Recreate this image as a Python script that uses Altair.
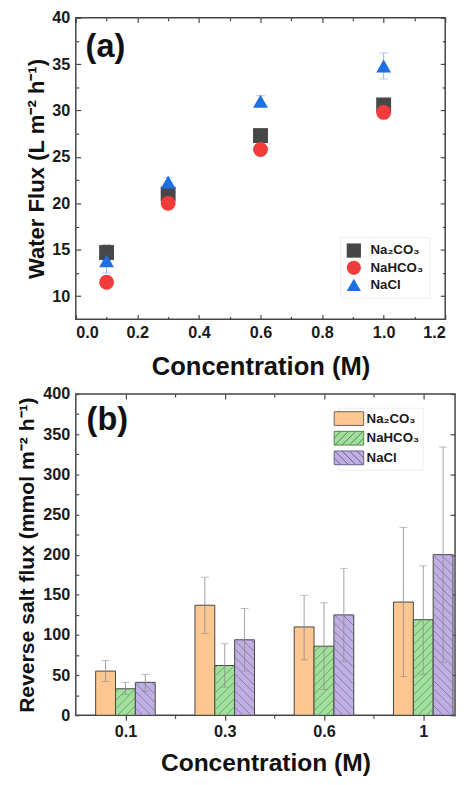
import math
import altair as alt
import pandas as pd

# ---------------- data ----------------
series = ["Na₂CO₃", "NaHCO₃", "NaCl"]

# (a) water flux
conc = [0.1, 0.3, 0.6, 1.0]
flux_na2co3 = [14.7, 21.0, 27.3, 30.6]
flux_nahco3 = [11.5, 20.0, 25.8, 29.8]
flux_nacl = [13.8, 22.3, 31.0, 34.8]
err_na2co3 = [0.8, 0.4, 0.4, 0.3]
err_nahco3 = [0.2, 0.2, 0.2, 0.2]
err_nacl = [1.3, 0.5, 0.6, 1.4]

# (b) reverse salt flux
conc_labels = ["0.1", "0.3", "0.6", "1"]
rsf_na2co3 = [55, 137, 110, 141]
rsf_nahco3 = [33, 62, 86, 119]
rsf_nacl = [41, 94, 125, 200]
rsf_lo_na2co3 = [42, 102, 69, 48]
rsf_hi_na2co3 = [68, 172, 149, 234]
rsf_lo_nahco3 = [26, 35, 32, 51]
rsf_hi_nahco3 = [41, 89, 140, 186]
rsf_lo_nacl = [30, 55, 67, 66]
rsf_hi_nacl = [51, 133, 183, 334]

# ---------------- tables ----------------
rows = []
for s, fl, er in zip(series, [flux_na2co3, flux_nahco3, flux_nacl], [err_na2co3, err_nahco3, err_nacl]):
    for c, f, e in zip(conc, fl, er):
        rows.append({"series": s, "conc": c, "flux": f, "lo": f - e, "hi": f + e})
top_df = pd.DataFrame(rows)

offsets = [-0.2, 0.0, 0.2]
hatch_dir = [0, 1, -1]
brow = []
for k, (s, v, lo, hi) in enumerate(zip(series, [rsf_na2co3, rsf_nahco3, rsf_nacl],
                                       [rsf_lo_na2co3, rsf_lo_nahco3, rsf_lo_nacl],
                                       [rsf_hi_na2co3, rsf_hi_nahco3, rsf_hi_nacl])):
    for i in range(len(conc_labels)):
        pos = i + 1 + offsets[k]
        brow.append({"salt": s, "pos": pos, "x0": pos - 0.1, "x1": pos + 0.1,
                     "val": v[i], "lo": lo[i], "hi": hi[i], "dir": hatch_dir[k]})
bar_df = pd.DataFrame(brow)

FONT = "Liberation Sans"
W1, H1 = 376, 307
W2, H2 = 386, 327
XMIN2, XMAX2 = 0.5, 4.32

# hatch segments (styling derived from bar values through the pixel scale)
kx = W2 / (XMAX2 - XMIN2)
ky = H2 / 400.0


def hatch(x0, x1, v, d, s=8.5):
    px0, px1 = (x0 - XMIN2) * kx, (x1 - XMIN2) * kx
    py0, py1 = 0.0, v * ky
    segs = []
    if d > 0:
        cmin, cmax = py0 - px1, py1 - px0
    else:
        cmin, cmax = py0 + px0, py1 + px1
    k = math.ceil(cmin / s)
    while k * s <= cmax:
        c = k * s
        if d > 0:
            a, b = max(px0, py0 - c), min(px1, py1 - c)
            if b > a:
                segs.append((a, a + c, b, b + c))
        else:
            a, b = max(px0, c - py1), min(px1, c - py0)
            if b > a:
                segs.append((a, c - a, b, c - b))
        k += 1
    return [(xa / kx + XMIN2, ya / ky, xb / kx + XMIN2, yb / ky) for xa, ya, xb, yb in segs]


hrows = []
for r in brow:
    if r["dir"] != 0:
        for xa, ya, xb, yb in hatch(r["x0"], r["x1"], r["val"], r["dir"]):
            hrows.append({"salt": r["salt"], "xa": xa, "ya": ya, "xb": xb, "yb": yb})
hatch_df = pd.DataFrame(hrows)


def legend_path(d, hw=2.0, hh=0.93, s=1.0):
    p = f"M{-hw},{-hh}H{hw}V{hh}H{-hw}Z"
    if d == 0:
        return p
    k = -12
    while k <= 12:
        c = k * s
        if d > 0:  # '/' : y = -x + c
            a, b = max(-hw, c - hh), min(hw, c + hh)
            if b > a:
                p += f"M{a:.3f},{-a + c:.3f}L{b:.3f},{-b + c:.3f}"
        else:  # '\' : y = x + c
            a, b = max(-hw, -hh - c), min(hw, hh - c)
            if b > a:
                p += f"M{a:.3f},{a + c:.3f}L{b:.3f},{b + c:.3f}"
        k += 1
    return p


TICKC = "#444444"


def tick_layer(df, xf, yf, xsc, ysc, xvals, yvals, size, xorient, yorient, inward_x=True, inward_y=True):
    return alt.Chart(df).mark_point(opacity=0).encode(
        x=alt.X(xf, scale=xsc, axis=alt.Axis(orient=xorient, values=xvals, labels=False, title=None,
                                             domain=False, grid=False, tickSize=size, tickColor=TICKC,
                                             tickWidth=1.2, offset=-size if inward_x else 0)),
        y=alt.Y(yf, scale=ysc, axis=alt.Axis(orient=yorient, values=yvals, labels=False, title=None,
                                             domain=False, grid=False, tickSize=size, tickColor=TICKC,
                                             tickWidth=1.2, offset=-size if inward_y else 0)),
    )


def err_layers(df, key, name, xf, xsc, ysc, color, width, cap):
    base = alt.Chart(df).transform_filter(alt.datum[key] == name)
    rule = base.mark_rule(strokeWidth=width, color=color).encode(
        x=alt.X(xf, scale=xsc, axis=None), y=alt.Y("lo:Q", scale=ysc, axis=None), y2="hi:Q")
    lo = base.mark_tick(orient="horizontal", size=cap, thickness=width, color=color).encode(
        x=alt.X(xf, scale=xsc, axis=None), y=alt.Y("lo:Q", scale=ysc, axis=None))
    hi = base.mark_tick(orient="horizontal", size=cap, thickness=width, color=color).encode(
        x=alt.X(xf, scale=xsc, axis=None), y=alt.Y("hi:Q", scale=ysc, axis=None))
    return [rule, lo, hi]


# ---------------- panel (a) ----------------
xs1 = alt.Scale(domain=[0, 1.2], nice=False, zero=False)
ys1 = alt.Scale(domain=[7.5, 40], nice=False, zero=False)
xmaj1 = [0, 0.2, 0.4, 0.6, 0.8, 1.0, 1.2]
xmin1 = [0.1, 0.3, 0.5, 0.7, 0.9, 1.1]
ymaj1 = [10, 15, 20, 25, 30, 35, 40]
ymin1 = [12.5, 17.5, 22.5, 27.5, 32.5, 37.5]
color1 = alt.Scale(domain=series, range=["#474747", "#f23b3b", "#1d6fe3"])
shape1 = alt.Scale(domain=series, range=["square", "circle", "triangle-up"])
err_colors1 = ["#555555", "#f06a6a", "#8fb6ee"]

leg1 = alt.Legend(title=None, orient="none", legendX=269, legendY=223, symbolSize=210, labelFontSize=13.5,
                  rowPadding=1.5, padding=6, strokeColor="#eeeeee", labelOffset=9)

points1 = alt.Chart(top_df).mark_point(filled=True, size=230, opacity=1).encode(
    x=alt.X("conc:Q", scale=xs1, axis=alt.Axis(orient="bottom", values=xmaj1, format=".1f", tickSize=0,
                                               domain=False, grid=False, labelPadding=6,
                                               title="Concentration (M)", titleFontSize=26, titlePadding=13)),
    y=alt.Y("flux:Q", scale=ys1, axis=alt.Axis(orient="left", values=ymaj1, tickSize=0, domain=False,
                                               grid=False, labelPadding=6,
                                               title="Water Flux (L m⁻² h⁻¹)", titleFontSize=22.5, titlePadding=4)),
    color=alt.Color("series:N", scale=color1, legend=leg1),
    shape=alt.Shape("series:N", scale=shape1, legend=leg1),
    order=alt.Order("order:Q"),
).transform_calculate(order="datum.series == 'NaCl' ? 3 : (datum.series == 'NaHCO₃' ? 2 : 1)")

label_a = alt.Chart(pd.DataFrame({"t": ["(a)"]})).mark_text(
    align="left", baseline="top", fontSize=33, fontWeight="bold", font=FONT, color="#111111"
).encode(x=alt.value(10), y=alt.value(14), text="t:N")

errs1 = []
for s, c in zip(series, err_colors1):
    errs1 += err_layers(top_df, "series", s, "conc:Q", xs1, ys1, c, 1, 9)

panel_a = alt.layer(
    tick_layer(top_df, "conc:Q", "flux:Q", xs1, ys1, xmaj1, ymaj1, 5, "bottom", "left"),
    tick_layer(top_df, "conc:Q", "flux:Q", xs1, ys1, xmin1, ymin1, 3, "bottom", "left"),
    tick_layer(top_df, "conc:Q", "flux:Q", xs1, ys1, xmaj1, ymaj1, 5, "top", "right"),
    tick_layer(top_df, "conc:Q", "flux:Q", xs1, ys1, xmin1, ymin1, 3, "top", "right"),
    *errs1, points1, label_a,
).resolve_axis(x="independent", y="independent").properties(width=W1, height=H1)

# ---------------- panel (b) ----------------
xs2 = alt.Scale(domain=[XMIN2, XMAX2], nice=False, zero=False)
ys2 = alt.Scale(domain=[0, 400], nice=False, zero=False)
xmaj2 = [1, 2, 3, 4]
xmin2v = [1.5, 2.5, 3.5]
ymaj2 = list(range(0, 401, 50))
ymin2 = list(range(25, 400, 50))
fill2 = alt.Scale(domain=series, range=["#fcc691", "#a3df9c", "#c0b0e2"])
hatch_colors = {"NaHCO₃": "#4f9a4f", "NaCl": "#7b6aa3"}
lstroke2 = alt.Scale(domain=series, range=["#6e6259", "#4a8a4a", "#6a5d8c"])
lshape2 = alt.Scale(domain=series, range=[legend_path(0), legend_path(1), legend_path(-1)])

leg2 = alt.Legend(title=None, orient="none", legendX=267, legendY=14, labelFontSize=13.5, rowPadding=2,
                  padding=3, strokeColor="#eeeeee", labelOffset=10, symbolStrokeWidth=1, symbolSize=225)

labexpr = "['0.1','0.3','0.6','1'][round(datum.value) - 1]"

bars2 = alt.Chart(bar_df).mark_bar(stroke="#444444", strokeWidth=1).encode(
    x=alt.X("x0:Q", scale=xs2, axis=alt.Axis(orient="bottom", values=xmaj2, labelExpr=labexpr,
                                             tickSize=5, tickColor=TICKC, tickWidth=1.2, domain=False,
                                             grid=False, labelPadding=4,
                                             title="Concentration (M)", titleFontSize=25, titlePadding=11)),
    x2="x1:Q",
    y=alt.Y("val:Q", scale=ys2, axis=alt.Axis(orient="left", values=ymaj2, tickSize=0, domain=False,
                                              grid=False, labelPadding=6,
                                              title="Reverse salt flux (mmol m⁻² h⁻¹)", titleFontSize=21.5,
                                              titlePadding=4)),
    y2=alt.Y2(datum=0),
    fill=alt.Fill("salt:N", scale=fill2, legend=leg2),
)

hatch_layers = []
for s, c in hatch_colors.items():
    hatch_layers.append(
        alt.Chart(hatch_df).transform_filter(alt.datum.salt == s).mark_rule(strokeWidth=0.8, color=c).encode(
            x=alt.X("xa:Q", scale=xs2, axis=None), x2="xb:Q",
            y=alt.Y("ya:Q", scale=ys2, axis=None), y2="yb:Q",
        )
    )

errs2 = []
for s in series:
    errs2 += err_layers(bar_df, "salt", s, "pos:Q", xs2, ys2, "#8a8a8a", 0.8, 8)

legend_layer = alt.Chart(bar_df).transform_filter("false").mark_point(
    filled=True, size=225, strokeWidth=1, opacity=1).encode(
    x=alt.X("pos:Q", scale=xs2, axis=None), y=alt.Y("val:Q", scale=ys2, axis=None),
    fill=alt.Fill("salt:N", scale=fill2, legend=leg2),
    shape=alt.Shape("salt:N", scale=lshape2, legend=leg2),
    stroke=alt.Stroke("salt:N", scale=lstroke2, legend=leg2),
)

label_b = alt.Chart(pd.DataFrame({"t": ["(b)"]})).mark_text(
    align="left", baseline="top", fontSize=33, fontWeight="bold", font=FONT, color="#111111"
).encode(x=alt.value(11), y=alt.value(11), text="t:N")

panel_b = alt.layer(
    tick_layer(bar_df, "pos:Q", "val:Q", xs2, ys2, xmin2v, ymaj2, 3, "bottom", "left",
               inward_x=False, inward_y=True),
    tick_layer(bar_df, "pos:Q", "val:Q", xs2, ys2, xmin2v, ymin2, 3, "top", "left"),
    tick_layer(bar_df, "pos:Q", "val:Q", xs2, ys2, xmaj2, ymaj2, 5, "top", "right"),
    bars2, *hatch_layers, *errs2, legend_layer, label_b,
).resolve_axis(x="independent", y="independent").properties(width=W2, height=H2)

chart = alt.vconcat(panel_a, panel_b, spacing=4).resolve_scale(
    color="independent", fill="independent", stroke="independent", shape="independent"
).properties(
    padding={"left": 8, "top": -6, "right": 0, "bottom": -3}
).configure_view(
    stroke="#444444", strokeWidth=1.5
).configure_axis(
    labelFont=FONT, labelFontWeight="bold", labelFontSize=16.5, labelColor="#1a1a1a",
    titleFont=FONT, titleFontWeight="bold", titleColor="#111111",
).configure_legend(
    labelFont=FONT, labelFontWeight="bold", labelColor="#1a1a1a",
)

chart.save("out.html", embed_options={"renderer": "svg", "actions": False})
